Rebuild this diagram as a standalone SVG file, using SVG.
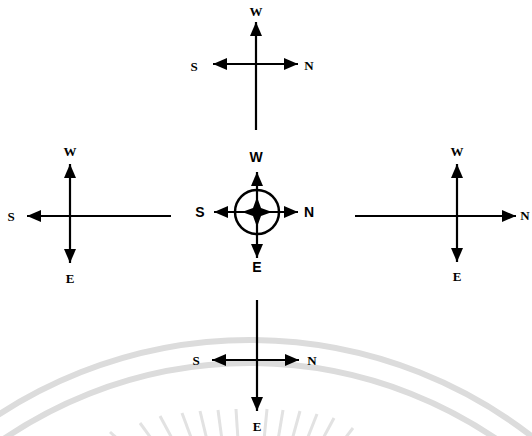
<svg xmlns="http://www.w3.org/2000/svg" width="532" height="436" viewBox="0 0 532 436">
<style>
.ln{stroke:#000;stroke-width:2.2;fill:none}
.lbl{font-family:"Liberation Serif",serif;font-weight:bold;font-size:13px;fill:#000;text-anchor:middle;dominant-baseline:central}
.lbc{font-family:"Liberation Sans",sans-serif;font-weight:bold;font-size:14px;fill:#000;text-anchor:middle;dominant-baseline:central}
.wm{stroke:#dcdcdc;fill:none}
</style>
<defs>
<marker id="ah" markerUnits="userSpaceOnUse" markerWidth="14" markerHeight="12" refX="14" refY="6" orient="auto">
<path d="M0,0 L14,6 L0,12 z" fill="#000"/>
</marker>
</defs>
<rect width="532" height="436" fill="#fff"/>
<g id="watermark">
<circle class="wm" cx="250" cy="800" r="460" stroke-width="6"/>
<circle class="wm" cx="250" cy="800" r="437" stroke-width="6"/>
<g stroke="#e2e2e2" stroke-width="3">
<line x1="110" y1="432" x2="130" y2="450"/>
<line x1="140" y1="423" x2="156" y2="445"/>
<line x1="160" y1="416" x2="174" y2="442"/>
<line x1="182" y1="413" x2="192" y2="440"/>
<line x1="200" y1="411" x2="207" y2="440"/>
<line x1="218" y1="410" x2="222" y2="440"/>
<line x1="236" y1="409" x2="238" y2="440"/>
<line x1="267" y1="409" x2="264" y2="440"/>
<line x1="283" y1="410" x2="278" y2="440"/>
<line x1="300" y1="411" x2="292" y2="440"/>
<line x1="317" y1="414" x2="306" y2="442"/>
<line x1="334" y1="418" x2="320" y2="444"/>
<line x1="353" y1="428" x2="336" y2="450"/>
</g>
</g>
<g id="connectors">
<line class="ln" x1="256" y1="130" x2="256" y2="22" marker-end="url(#ah)"/>
<line class="ln" x1="256" y1="64" x2="213" y2="64" marker-end="url(#ah)"/>
<line class="ln" x1="256" y1="64" x2="298" y2="64" marker-end="url(#ah)"/>
<line class="ln" x1="70" y1="216" x2="70" y2="164" marker-end="url(#ah)"/>
<line class="ln" x1="70" y1="216" x2="70" y2="263" marker-end="url(#ah)"/>
<line class="ln" x1="171" y1="216" x2="27" y2="216" marker-end="url(#ah)"/>
<line class="ln" x1="457" y1="216" x2="457" y2="164" marker-end="url(#ah)"/>
<line class="ln" x1="457" y1="216" x2="457" y2="262" marker-end="url(#ah)"/>
<line class="ln" x1="355" y1="216" x2="516" y2="216" marker-end="url(#ah)"/>
<line class="ln" x1="257" y1="300" x2="257" y2="411" marker-end="url(#ah)"/>
<line class="ln" x1="257" y1="360" x2="212" y2="360" marker-end="url(#ah)"/>
<line class="ln" x1="257" y1="360" x2="299" y2="360" marker-end="url(#ah)"/>
<line class="ln" x1="257" y1="212" x2="257" y2="172" marker-end="url(#ah)"/>
<line class="ln" x1="257" y1="212" x2="257" y2="258" marker-end="url(#ah)"/>
<line class="ln" x1="257" y1="212" x2="214" y2="212" marker-end="url(#ah)"/>
<line class="ln" x1="257" y1="212" x2="298" y2="212" marker-end="url(#ah)"/>
</g>
<g id="compass-center">
<circle cx="257" cy="212" r="22" fill="none" stroke="#000" stroke-width="2.5"/>
<path d="M257,197 L261,208 L272,212 L261,216 L257,227 L253,216 L242,212 L253,208 z" fill="#000"/>
</g>
<g id="labels-top">
<text class="lbl" x="256" y="11">W</text>
<text class="lbl" x="194" y="66">S</text>
<text class="lbl" x="309" y="65">N</text>
</g>
<g id="labels-left">
<text class="lbl" x="70" y="151">W</text>
<text class="lbl" x="11" y="216">S</text>
<text class="lbl" x="70" y="278">E</text>
</g>
<g id="labels-right">
<text class="lbl" x="457" y="151">W</text>
<text class="lbl" x="525" y="215">N</text>
<text class="lbl" x="457" y="276">E</text>
</g>
<g id="labels-bottom">
<text class="lbl" x="196" y="360">S</text>
<text class="lbl" x="312" y="360">N</text>
<text class="lbl" x="257" y="426">E</text>
</g>
<g id="labels-center">
<text class="lbc" x="256" y="157">W</text>
<text class="lbc" x="200" y="212">S</text>
<text class="lbc" x="309" y="212">N</text>
<text class="lbc" x="257" y="267">E</text>
</g>
</svg>
